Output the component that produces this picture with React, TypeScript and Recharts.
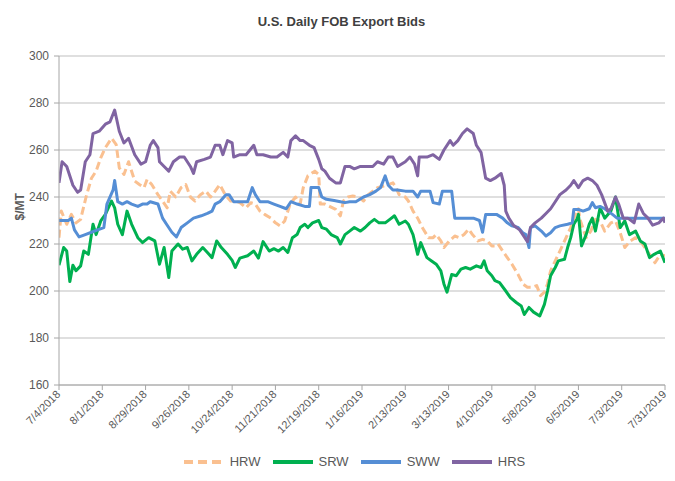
import React from 'react';
import { LineChart, Line, XAxis, YAxis, CartesianGrid, Legend } from 'recharts';

// day offsets from 7/4/2018, bid in $/MT
const HRW: [number, number][] = [
  [0, 222.7], [1.5, 234], [5, 228.4], [8, 232.6], [11, 229], [14, 230.5], [17.5, 240], [21, 248], [24, 251],
  [27, 256.7], [30, 261], [34, 265], [37, 262.3], [39, 252.4], [42, 249.6], [45, 255], [49, 246.8], [52, 245.3],
  [55, 244], [57, 247.5], [60, 245.3], [64, 241], [67, 238.3], [70, 235.4], [72, 242.5], [75.5, 240], [79, 244],
  [82, 245.3], [85, 240], [88, 238.3], [91.5, 241], [95, 242.5], [98, 240], [101, 242.5], [104, 245.3], [107.5, 241],
  [111, 238.3], [114, 238.3], [117, 237.6], [121, 235.4], [124, 237.6], [127, 237], [130, 234], [133, 232.6],
  [137, 231], [140, 229], [143, 227.7], [146, 229.8], [149.5, 237], [153, 240], [156, 237], [158, 244], [161, 249],
  [165.5, 251], [168, 249.6], [169, 237], [172, 237], [175, 236], [179, 234.7], [182, 232], [184, 238.3], [187, 240],
  [190, 240.4], [194, 240], [197, 238.3], [200, 241], [203, 242.5], [206, 244], [209.5, 244.6], [213, 245.3],
  [216, 246], [218, 244], [220, 241], [224, 240], [226, 238.3], [229, 234], [232, 231], [235, 227], [239, 222.7],
  [242, 222.7], [244, 224], [247, 221.3], [249, 218.5], [252.5, 221.3], [256, 223.4], [259, 222.7], [262, 224],
  [265, 226.3], [267.5, 224], [271, 221.3], [274, 222], [277, 221.3], [280, 219.2], [282, 219.2], [284, 220],
  [287, 217], [290, 214.2], [293, 211.4], [297, 207], [300, 203], [303, 201.6], [306, 201.6], [309, 202.3],
  [311.5, 198], [314, 199.5], [316, 203], [318, 208.6], [321, 212.8], [324, 217], [327.5, 222], [331, 227],
  [334, 232.6], [336, 235], [337, 230.5], [341, 222.7], [344, 225.5], [347, 230.5], [350, 229.8], [353, 225.5],
  [357, 229], [360, 229.8], [363, 224.8], [366, 218.5], [369.5, 221.3], [373, 222.7], [376, 221.3], [379, 218.5],
  [382, 215.6], [385.5, 212], [389, 215.6], [392, 215],
];

const SRW: [number, number][] = [
  [0, 211], [3, 218.5], [5, 217], [7, 204], [9, 211], [11, 208.6], [14, 210.7], [16, 217], [19, 215.6], [22, 228.4],
  [24, 224], [27, 229.8], [30, 232.6], [34, 238.3], [36, 235.4], [38, 228.4], [41, 224], [44, 234], [47, 228.4],
  [51, 222.7], [54, 220.6], [58, 222.7], [62, 221.3], [65, 211.4], [68, 218.5], [71, 205.7], [73, 217], [77, 220],
  [80, 217.8], [83, 218.5], [86, 212.8], [89, 215.6], [93, 218.5], [96, 216.4], [99, 214.2], [102, 221.3],
  [105, 218.5], [109, 215.6], [112, 213], [114, 210], [117, 214], [122, 215], [126, 217], [129, 214], [132, 221],
  [136, 217], [139, 218], [142, 217], [145, 218.5], [148, 216.4], [151, 222.7], [154, 224], [156, 227], [159, 228.4],
  [161, 227], [164, 229], [168, 230], [170, 227], [173, 226.3], [176, 224], [180, 222.7], [182, 220], [185, 224],
  [188, 225.5], [191, 227], [195, 225.5], [198, 227], [201, 229], [204, 230.5], [207, 229], [211, 229], [214, 230.5],
  [217, 232], [220, 228.4], [224, 229.8], [226, 228.4], [229, 224], [232, 215.6], [234, 220.6], [238, 214.2],
  [241, 212.8], [244, 211.4], [247, 208.6], [249, 203], [251, 199.5], [254, 207], [257, 206.5], [260, 209.3],
  [263, 210], [266, 209.3], [270, 210.7], [273, 210], [275, 212.8], [277, 208.6], [280, 206.5], [282, 204.4],
  [285, 203.6], [289, 200], [292, 197.2], [296, 195], [299, 193.6], [301, 190], [304, 193], [307, 191], [311, 189.4],
  [314, 194.3], [316, 200], [318, 206.5], [321, 210], [323, 212.8], [327, 213.5], [329, 218.5], [331, 222.7],
  [333, 228.4], [335, 230.5], [336, 232.6], [338, 219.2], [341, 224], [343, 228.4], [345, 231], [347, 225.5],
  [350, 235.4], [353, 231], [357, 234], [360, 240], [363, 227], [366, 229.8], [369, 224], [373, 225.5], [376, 221.3],
  [379, 220], [382, 214.2], [385, 215.6], [389, 217], [392, 212],
];

const SWW: [number, number][] = [
  [0, 230], [6, 230], [8, 231], [10, 226], [13, 223], [17, 224], [21, 225], [25, 226], [29, 227], [31, 237],
  [35, 243], [36, 247], [38, 238], [41, 237], [44, 238], [47, 237], [51, 236], [54, 237], [57, 237], [59, 238],
  [64, 237], [67, 231], [70, 228], [73, 225], [76, 223], [79, 227], [83, 229], [87, 231], [92, 232], [96, 233],
  [99, 234], [101, 237], [104, 238], [108, 241], [110, 241], [113, 238], [117, 238], [122, 238], [125, 244],
  [127, 241], [130, 238], [135, 238], [139, 237], [143, 236], [147, 235], [150, 238], [154, 237], [159, 236],
  [162, 236], [163, 244], [168, 244], [170, 240], [173, 239], [178, 238.5], [182, 238], [185, 237.6], [188, 238],
  [192, 238], [197, 240], [201, 241], [205, 242.5], [208, 244], [211, 249], [213, 245], [216, 243], [219, 243],
  [224, 242.5], [229, 242.5], [232, 240], [234, 242.5], [240, 242.5], [242, 237.6], [246, 237], [248, 242.5],
  [254, 242.5], [256, 231], [262, 231], [268, 231], [272, 230], [274, 225], [276, 232.6], [280, 232.6], [283, 232.6],
  [287, 231], [290, 229], [293, 227.7], [297, 227], [300, 224.8], [302, 224], [304, 218.5], [305, 227], [308, 227.7],
  [312, 225.5], [315, 223.4], [318, 224.8], [321, 227], [324, 227.7], [329, 228.4], [332, 229], [333, 234.7],
  [336, 234.7], [339, 234], [343, 235], [345, 237.6], [347, 235.4], [350, 236], [353, 235], [358, 232.6], [361, 231],
  [364, 231], [392, 231],
];

const HRS: [number, number][] = [
  [0, 246], [2, 255], [5, 253], [9, 245], [12, 242], [14, 243], [17, 255], [20, 258], [22, 267], [26, 268],
  [30, 271], [33, 272], [36, 277], [39, 268], [42, 263], [45, 265], [49, 258], [53, 254], [56, 255], [59, 262],
  [61, 264], [64, 261], [65, 255], [68, 253], [71, 251], [74, 255], [78, 257], [81, 257], [85, 253], [87, 250],
  [89, 255], [94, 256], [98, 257], [101, 262], [104, 262], [106, 258], [109, 264], [112, 263], [113, 257],
  [117, 258], [121, 258], [126, 262], [128, 258], [132, 258], [137, 257], [141, 257], [145, 259], [148, 257],
  [150, 264], [153, 266], [156, 264], [158, 264], [162, 262], [165, 261], [168, 256], [170, 252], [172, 251],
  [175, 248], [179, 246], [182, 246], [185, 253], [188, 253], [191, 252], [195, 253], [199, 253], [203, 253],
  [206, 255], [210, 254], [213, 257], [216, 257], [219, 253], [224, 255], [227, 257], [230, 254], [232, 249],
  [233, 257], [238, 257], [242, 258], [246, 256], [249, 260], [253, 264], [255, 262], [258, 264], [261, 267],
  [264, 269], [268, 267], [270, 262], [273, 259], [276, 248], [279, 247], [282, 248], [286, 250], [288, 245],
  [289, 234], [291, 231], [294, 228], [298, 226], [301, 223], [303, 221], [305, 227], [308, 229], [312, 231],
  [315, 233], [318, 235], [321, 238], [324, 241], [328, 243], [331, 245], [333, 247], [336, 244], [339, 247],
  [342, 248], [345, 247], [348, 245], [351, 241], [355, 234], [357, 235], [360, 240], [362, 237], [365, 231],
  [368, 231], [372, 229], [375, 237], [378, 233], [381, 231], [384, 228], [388, 229], [391, 231], [392, 229],
];

const tickDays = [0, 28, 56, 84, 112, 140, 168, 196, 224, 252, 280, 308, 336, 364, 392];
const tickLabels = [
  '7/4/2018', '8/1/2018', '8/29/2018', '9/26/2018', '10/24/2018', '11/21/2018', '12/19/2018', '1/16/2019',
  '2/13/2019', '3/13/2019', '4/10/2019', '5/8/2019', '6/5/2019', '7/3/2019', '7/31/2019',
];
const yTicks = [160, 180, 200, 220, 240, 260, 280, 300];

const series = [
  { name: 'HRW', points: HRW, color: '#FAC090', dash: '8 4' },
  { name: 'SRW', points: SRW, color: '#00B050', dash: undefined },
  { name: 'SWW', points: SWW, color: '#558ED5', dash: undefined },
  { name: 'HRS', points: HRS, color: '#8064A2', dash: undefined },
];

const FONT = '"Liberation Sans", Arial, sans-serif';
const TEXT = '#595959';

const DateTick = ({ x, y, payload }: any) => {
  const i = tickDays.indexOf(payload.value);
  return (
    <text
      x={x + 2}
      y={y + 3}
      transform={`rotate(-45, ${x + 2}, ${y + 3})`}
      textAnchor="end"
      fontSize={11}
      fontFamily={FONT}
      fill={TEXT}
    >
      {tickLabels[i]}
    </text>
  );
};

const LegendContent = () => (
  <div style={{ display: 'flex', justifyContent: 'center', height: 18, lineHeight: '18px', paddingLeft: 48 }}>
    {series.map((s) => (
      <div key={s.name} style={{ display: 'flex', alignItems: 'center', marginRight: 12 }}>
        <svg width={40} height={8} style={{ marginRight: 6 }}>
          <line x1={0} y1={4} x2={40} y2={4} stroke={s.color} strokeWidth={4} strokeDasharray={s.dash ? '9 5' : undefined} />
        </svg>
        <span style={{ fontSize: 13, fontFamily: FONT, color: TEXT }}>{s.name}</span>
      </div>
    ))}
  </div>
);

export default function App() {
  return (
    <div style={{ position: 'relative', width: 667, height: 465, fontFamily: FONT }}>
      <div
        style={{
          position: 'absolute', top: 6, left: 0, width: 667, textAlign: 'center',
          fontSize: 13, fontWeight: 'bold', color: '#404040',
        }}
      >
        U.S. Daily FOB Export Bids
      </div>
      <LineChart
        width={667}
        height={465}
        margin={{ top: 48, right: 10, bottom: 2, left: 0 }}
      >
        <CartesianGrid vertical={false} stroke="#BFBFBF" />
        <XAxis
          type="number"
          dataKey="day"
          domain={[0, 392]}
          ticks={tickDays}
          interval={0}
          height={68}
          tick={<DateTick />}
          tickSize={5}
          stroke="#A6A6A6"
          allowDataOverflow
        />
        <YAxis
          type="number"
          domain={[160, 300]}
          ticks={yTicks}
          width={51}
          tickSize={5}
          tickMargin={5}
          stroke="#A6A6A6"
          tick={{ fontSize: 12, fill: TEXT, fontFamily: FONT }}
          label={{ value: '$/MT', angle: -90, position: 'insideLeft', offset: 12, style: { fontSize: 12, fontWeight: 'bold', fill: TEXT, fontFamily: FONT } }}
        />
        <Legend verticalAlign="bottom" content={<LegendContent />} />
        {series.map((s) => (
          <Line
            key={s.name}
            data={s.points.map(([day, value]) => ({ day, value }))}
            dataKey="value"
            name={s.name}
            type="linear"
            stroke={s.color}
            strokeWidth={3}
            strokeDasharray={s.dash}
            strokeLinejoin="round"
            dot={false}
            activeDot={false}
            isAnimationActive={false}
          />
        ))}
      </LineChart>
    </div>
  );
}
